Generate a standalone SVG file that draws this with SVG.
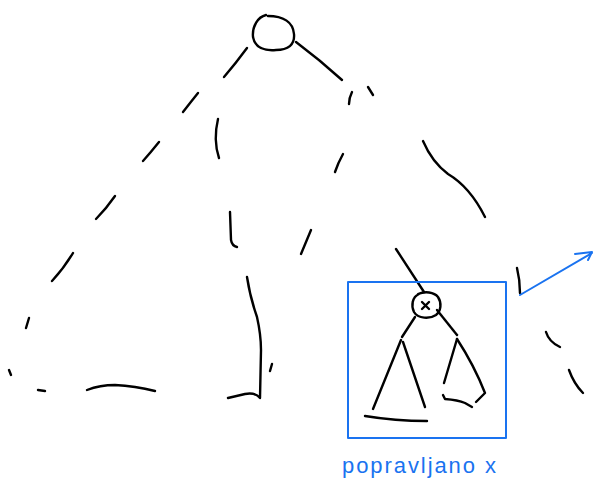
<svg xmlns="http://www.w3.org/2000/svg" width="597" height="495" viewBox="0 0 597 495">
<style>
.s{fill:none;stroke:#000;stroke-width:2.4;stroke-linecap:round;stroke-linejoin:round}
.b{fill:none;stroke:#1a73f0;stroke-width:2;stroke-linecap:round;stroke-linejoin:round}
.lbl{font-family:"Liberation Sans",Arial,sans-serif;font-size:22px;fill:#1a73f0}
</style>
<rect width="597" height="495" fill="#fff"/>
<g id="root">
<path class="s" d="M266,15 C258,17 252,26 253,37 C255,48 264,51 276,50 C288,50 295,45 294,34 C293,22 283,16 268,16"/>
</g>
<g id="strokes-left">
<path class="s" d="M247,48 Q236,63 224,77"/>
<path class="s" d="M198,93 Q190,103 183,112"/>
<path class="s" d="M159,142 Q151,152 143,161"/>
<path class="s" d="M115,196 Q106,209 96,219"/>
<path class="s" d="M73,253 Q64,268 52,281"/>
<path class="s" d="M29,318 L26,328"/>
<path class="s" d="M9,370 L11,375"/>
<path class="s" d="M38,390 L45,391"/>
<path class="s" d="M87,390 Q100,385 115,385 Q135,386 155,391"/>
<path class="s" d="M218,119 Q213,140 219,158"/>
<path class="s" d="M230,212 L231,240 Q232,246 237,247"/>
<path class="s" d="M247,277 Q250,297 257,317 Q261,335 261,350 L260,398 Q255,392 245,394 L228,398"/>
<path class="s" d="M272,364 L270,371"/>
</g>
<g id="strokes-right">
<path class="s" d="M296,42 Q320,60 342,80"/>
<path class="s" d="M352,92 Q349,98 349,104"/>
<path class="s" d="M368,87 L373,95"/>
<path class="s" d="M343,154 Q338,163 335,172"/>
<path class="s" d="M311,230 L301,254"/>
<path class="s" d="M423,141 Q432,162 448,174 Q470,187 485,217"/>
<path class="s" d="M517,268 Q520,280 520,293"/>
<path class="s" d="M546,332 Q549,342 560,347"/>
<path class="s" d="M569,370 Q574,384 583,393"/>
</g>
<g id="node-x">
<path class="s" d="M396,249 L424,292"/>
<path class="s" d="M419,294 C412,297 411,306 414,312 C418,319 430,319 436,315 C441,311 442,303 438,297 C434,292 425,291 418,294"/>
<path class="s" d="M422,302 L429,309 M429,302 L422,309"/>
</g>
<g id="subtree-left">
<path class="s" d="M415,317 L402,337"/>
<path class="s" d="M401,340 L373,409"/>
<path class="s" d="M403,342 L425,407"/>
<path class="s" d="M365,416 Q395,421 427,421"/>
</g>
<g id="subtree-right">
<path class="s" d="M437,310 L457,335"/>
<path class="s" d="M457,339 L444,383"/>
<path class="s" d="M457,339 Q474,365 485,393 L476,402"/>
<path class="s" d="M443,395 L445,399 Q458,400 465,403 L472,407"/>
</g>
<g id="highlight">
<rect class="b" x="348" y="282" width="158" height="156"/>
<path class="b" d="M520,295 L592,253 M575,254 L592,252 L588,260"/>
<text class="lbl" x="342" y="473" textLength="154" lengthAdjust="spacing">popravljano x</text>
</g>
</svg>
